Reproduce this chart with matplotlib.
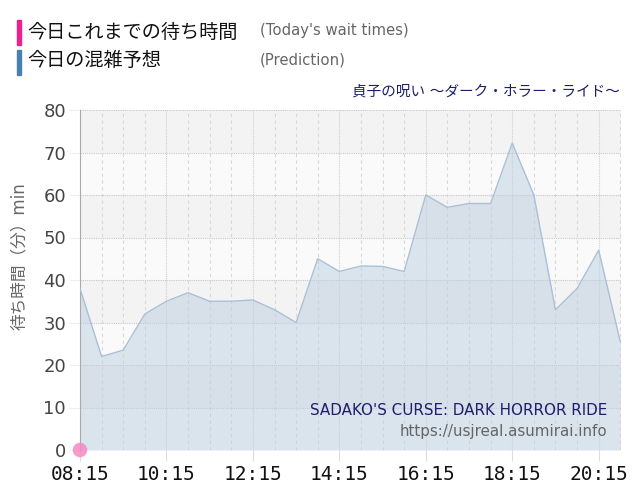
import matplotlib
matplotlib.use("Agg")
import matplotlib.pyplot as plt
from matplotlib.patches import Rectangle

plt.rcParams['font.family'] = ['DejaVu Sans', 'Noto Sans CJK JP']

# 予想 (prediction) – every 30 minutes
times = ["08:15", "08:45", "09:15", "09:45", "10:15", "10:45", "11:15", "11:45",
         "12:15", "12:45", "13:15", "13:45", "14:15", "14:45", "15:15", "15:45",
         "16:15", "16:45", "17:15", "17:45", "18:15", "18:45", "19:15", "19:45",
         "20:15", "20:45"]
prediction = [38, 22, 23.5, 32, 35, 37, 35, 35, 35.3, 33, 30, 45, 42, 43.3,
              43.2, 42, 60, 57.1, 58, 58, 72.2, 60, 33, 38, 47, 25.5]

# 今日これまで (actual so far)
actual_times = ["08:15"]
actual_values = [0]

tick_labels = ["08:15", "10:15", "12:15", "14:15", "16:15", "18:15", "20:15"]


def to_h(t):
    h, m = t.split(":")
    return int(h) + int(m) / 60


x = [to_h(t) for t in times]
xa = [to_h(t) for t in actual_times]

fig = plt.figure(figsize=(6.4, 5), dpi=100)
ax = fig.add_axes([80 / 640, 50 / 500, 541 / 640, 340 / 500])

x0, x1 = to_h("08:15"), to_h("20:46")
ax.set_xlim(x0, x1)
ax.set_ylim(0, 80)

# alternating bands
for i, lo in enumerate(range(0, 80, 10)):
    c = "#f3f3f3" if i % 2 == 1 else "#fafafa"
    ax.axhspan(lo, lo + 10, color=c, zorder=0, lw=0)

# grid
for yv in range(10, 81, 10):
    ax.axhline(yv, color="#c8c8c8", lw=0.8, ls=(0, (1, 1)), zorder=1)
k = 1
t = x0 + 0.5
while t < x1:
    if k % 4 == 0:
        ax.axvline(t, color="#cfcfcf", lw=0.8, ls=(0, (1, 1)), zorder=1)
    else:
        ax.axvline(t, color="#d8d8d8", lw=0.8, ls=(0, (3, 3)), zorder=1)
    t += 0.5
    k += 1

ax.fill_between(x, prediction, color="#bccfe0", alpha=0.5, lw=0, zorder=2)
ax.plot(x, prediction, color="#a9c0d6", lw=1.0, zorder=3)
ax.scatter(xa, actual_values, s=110, color="#f58ac4", alpha=0.85, zorder=5,
           clip_on=False, edgecolors="none")

ax.set_xticks([to_h(t) for t in tick_labels])
ax.set_xticklabels(tick_labels, fontsize=14, color="#111111",
                   family="DejaVu Sans Mono")
ax.set_yticks(range(0, 81, 10))
ax.tick_params(axis="y", length=8, color="#eeeeee", labelsize=13,
               labelcolor="#444444", pad=2)
ax.tick_params(axis="x", length=8, color="#dddddd", pad=3)
for s in ["top", "right", "bottom"]:
    ax.spines[s].set_visible(False)
ax.spines["left"].set_color("#aaaaaa")

ax.set_ylabel("待ち時間（分）min", fontsize=12, color="#666666")
ax.yaxis.set_label_coords(-0.096, 0.57)

# watermark
ax.text(0.975, 0.115, "SADAKO'S CURSE: DARK HORROR RIDE", transform=ax.transAxes,
        ha="right", va="center", fontsize=10.9, color="#1c1f6b", zorder=6)
ax.text(0.975, 0.055, "https://usjreal.asumirai.info", transform=ax.transAxes,
        ha="right", va="center", fontsize=10.9, color="#666666", zorder=6)

# legend header
fig.patches.append(Rectangle((17 / 640, 1 - 45 / 500), 4 / 640, 25 / 500,
                             transform=fig.transFigure, color="#ee1f8e"))
fig.patches.append(Rectangle((17 / 640, 1 - 75 / 500), 4 / 640, 25 / 500,
                             transform=fig.transFigure, color="#4a80b0"))
fig.text(27 / 640, 1 - 32 / 500, "今日これまでの待ち時間", fontsize=13.8,
         va="center", color="#111111")
fig.text(260 / 640, 1 - 31 / 500, "(Today's wait times)", fontsize=10.7,
         va="center", color="#666666")
fig.text(27 / 640, 1 - 61 / 500, "今日の混雑予想", fontsize=13.8,
         va="center", color="#111111")
fig.text(260 / 640, 1 - 60 / 500, "(Prediction)", fontsize=10.7,
         va="center", color="#666666")
fig.text(620 / 640, 1 - 91 / 500, "貞子の呪い ～ダーク・ホラー・ライド～",
         fontsize=10.5, ha="right", va="center", color="#1c1f6b")

fig.savefig("out.png", dpi=100)
